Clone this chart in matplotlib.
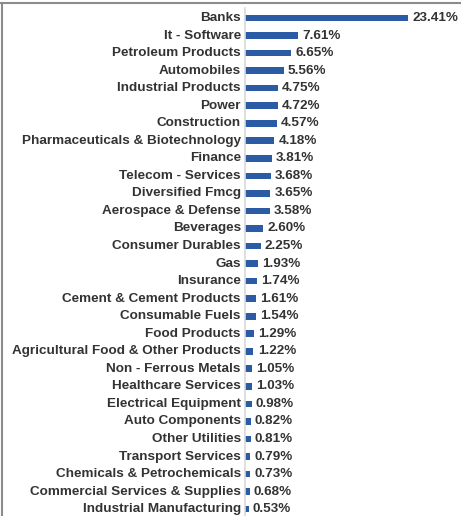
import matplotlib
matplotlib.use('Agg')
import matplotlib.pyplot as plt
from matplotlib.lines import Line2D

sectors = [
    "Banks", "It - Software", "Petroleum Products", "Automobiles",
    "Industrial Products", "Power", "Construction",
    "Pharmaceuticals & Biotechnology", "Finance", "Telecom - Services",
    "Diversified Fmcg", "Aerospace & Defense", "Beverages",
    "Consumer Durables", "Gas", "Insurance", "Cement & Cement Products",
    "Consumable Fuels", "Food Products", "Agricultural Food & Other Products",
    "Non - Ferrous Metals", "Healthcare Services", "Electrical Equipment",
    "Auto Components", "Other Utilities", "Transport Services",
    "Chemicals & Petrochemicals", "Commercial Services & Supplies",
    "Industrial Manufacturing",
]
weights = [
    23.41, 7.61, 6.65, 5.56, 4.75, 4.72, 4.57, 4.18, 3.81, 3.68, 3.65, 3.58,
    2.60, 2.25, 1.93, 1.74, 1.61, 1.54, 1.29, 1.22, 1.05, 1.03, 0.98, 0.82,
    0.81, 0.79, 0.73, 0.68, 0.53,
]

plt.rcParams['font.family'] = ['Liberation Sans', 'DejaVu Sans']
bar_color = '#2b5ba5'
text_color = '#333333'

fig = plt.figure(figsize=(4.61, 5.16), dpi=100)
W, H = 461, 516
x0 = 245
ax = fig.add_axes([x0 / W, 0, 1 - x0 / W, 1])

pos = list(range(len(sectors)))
ax.barh(pos, weights, height=0.38, color=bar_color)

for i, (name, v) in enumerate(zip(sectors, weights)):
    ax.text(-0.6, i, name, ha='right', va='center', fontsize=9.7,
            fontweight='bold', color=text_color)
    ax.text(v + 0.6, i, f"{v:.2f}%", ha='left', va='center', fontsize=9.7,
            fontweight='bold', color=text_color)

# 17.54 px per row, first row centred 18 px from the top
step = 17.54
ax.set_ylim((H - 18) / step, -18 / step)
ax.set_xlim(0, (W - x0) / 6.96)

for s in ['top', 'right', 'bottom']:
    ax.spines[s].set_visible(False)
ax.spines['left'].set_color('#d9d9d9')
ax.spines['left'].set_linewidth(1.2)
ax.spines['left'].set_bounds(-0.55, (H - 18) / step)
ax.set_xticks([])
ax.set_yticks([])
ax.patch.set_alpha(0)

# frame lines along the top and left edge
fig.add_artist(Line2D([0, 1], [1 - 2.5 / H, 1 - 2.5 / H], color='#8c8c8c', lw=1.5))
fig.add_artist(Line2D([1.5 / W, 1.5 / W], [0, 1 - 2.5 / H], color='#8c8c8c', lw=1.5))

fig.savefig('out.png', dpi=100)
